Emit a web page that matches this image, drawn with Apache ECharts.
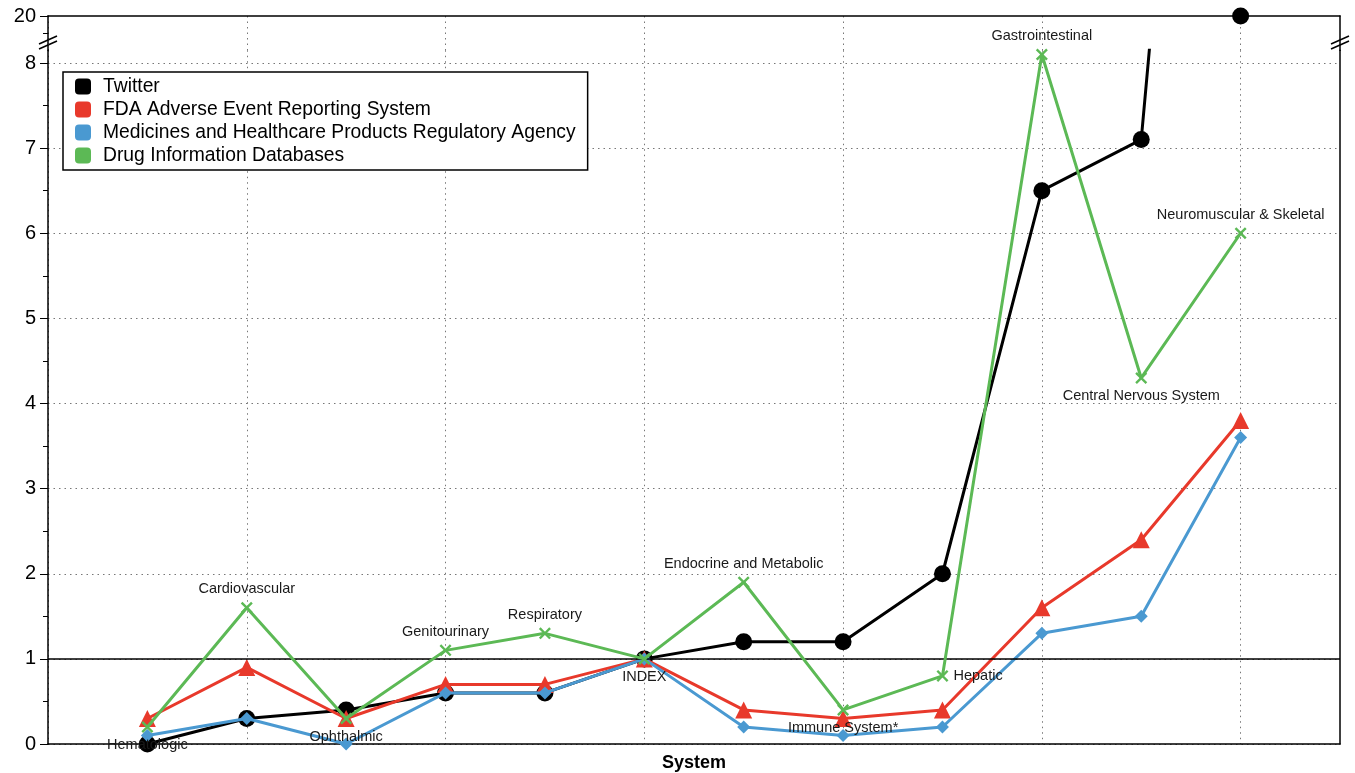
<!DOCTYPE html>
<html><head><meta charset="utf-8">
<script src="https://cdn.jsdelivr.net/npm/echarts@6/dist/echarts.min.js"></script>
<style>html,body{margin:0;padding:0;background:#fff}#c{width:1355px;height:773px}</style>
</head><body><div id="c"></div>
<script>
// ---- data ----
const categories = ['Hematologic','Cardiovascular','Ophthalmic','Genitourinary','Respiratory','INDEX','Endocrine and Metabolic','Immune System*','Hepatic','Gastrointestinal','Central Nervous System','Neuromuscular & Skeletal'];
const twitter = [0, 0.3, 0.4, 0.6, 0.6, 1.0, 1.2, 1.2, 2.0, 6.5, 7.1, 20];
const fda     = [0.3, 0.9, 0.3, 0.7, 0.7, 1.0, 0.4, 0.3, 0.4, 1.6, 2.4, 3.8];
const mhra    = [0.1, 0.3, 0.0, 0.6, 0.6, 1.0, 0.2, 0.1, 0.2, 1.3, 1.5, 3.6];
const drugDb  = [0.2, 1.6, 0.3, 1.1, 1.3, 1.0, 1.9, 0.4, 0.8, 8.1, 4.3, 6.0];
const seriesNames = ['Twitter','FDA Adverse Event Reporting System','Medicines and Healthcare Products Regulatory Agency','Drug Information Databases'];
const lowerTicks = [0,1,2,3,4,5,6,7,8];
const upperTicks = [20];
const indexValue = 1;
const breakValue = 8;

// ---- layout / style ----
const labelPlacement = ['bottom','top','bottom','top','top','bottom','top','bottom','right','top','bottom','top'];
const colors = ['#000000','#e8392b','#4a99d1','#5cb955'];
const FONT = '"Liberation Sans", Arial, Helvetica, sans-serif';
const pxPerUnit = (744 - 63) / 8;
const lowMax = 8.15;
const lowTop = 744 - lowMax * pxPerUnit;
const axisCats = ['', ...categories, ' '];
const pad = arr => [null, ...arr, null];
const crossPath = 'path://M0,1.4L1.4,0L5,3.6L8.6,0L10,1.4L6.4,5L10,8.6L8.6,10L5,6.4L1.4,10L0,8.6L3.6,5Z';

const chart = echarts.init(document.getElementById('c'), null, {renderer:'canvas'});

const catAxisBase = {
  type: 'category', data: axisCats, boundaryGap: false,
  axisTick: {show: false}, axisLabel: {show: false},
  axisLine: {show: true, onZero: false, lineStyle: {color: '#000', width: 1.5}},
  splitLine: {show: true, lineStyle: {color: '#777', type: [1.5, 4], width: 1}}
};

const labelStyle = {fontSize: 14.5, color: '#1a1a1a', fontFamily: FONT, distance: 5};

const option = {
  animation: false,
  backgroundColor: '#fff',
  textStyle: {fontFamily: FONT},
  grid: [
    {left: 48, right: 15, top: lowTop, bottom: 29, outerBoundsMode: 'none', containLabel: false},
    {left: 48, right: 15, top: 16, height: lowTop - 16, outerBoundsMode: 'none', containLabel: false}
  ],
  xAxis: [
    Object.assign({}, catAxisBase, {gridIndex: 0, position: 'bottom', name: 'System', nameLocation: 'middle', nameGap: 10,
      nameTextStyle: {fontSize: 18, fontWeight: 'bold', color: '#000', fontFamily: FONT}}),
    Object.assign({}, catAxisBase, {gridIndex: 1, position: 'top'})
  ],
  yAxis: [
    {gridIndex: 0, type: 'value', min: 0, max: lowMax, interval: 1, position: 'left',
      axisLine: {show: true, onZero: false, lineStyle: {color: '#000', width: 1.5}},
      axisTick: {show: true, length: 8, customValues: lowerTicks, lineStyle: {color: '#000', width: 1}},
      minorTick: {show: true, splitNumber: 2, length: 5, lineStyle: {color: '#000', width: 1}},
      axisLabel: {customValues: lowerTicks, fontSize: 20, color: '#000', margin: 12, fontFamily: FONT},
      splitLine: {show: true, lineStyle: {color: '#777', type: [1.5, 4], width: 1}}
    },
    {gridIndex: 0, type: 'value', min: 0, max: 1, position: 'right',
      axisLine: {show: true, onZero: false, lineStyle: {color: '#000', width: 1.5}},
      axisTick: {show: false}, axisLabel: {show: false}, splitLine: {show: false}
    },
    {gridIndex: 1, type: 'value', min: 12, max: 20, interval: 8, position: 'left',
      axisLine: {show: true, onZero: false, lineStyle: {color: '#000', width: 1.5}},
      axisTick: {show: true, length: 8, customValues: upperTicks, lineStyle: {color: '#000', width: 1}},
      minorTick: {show: true, splitNumber: 2, length: 5, lineStyle: {color: '#000', width: 1}},
      axisLabel: {customValues: upperTicks, fontSize: 20, color: '#000', margin: 12, fontFamily: FONT},
      splitLine: {show: false}
    },
    {gridIndex: 1, type: 'value', min: 0, max: 1, position: 'right',
      axisLine: {show: true, onZero: false, lineStyle: {color: '#000', width: 1.5}},
      axisTick: {show: false}, axisLabel: {show: false}, splitLine: {show: false}
    }
  ],
  legend: {
    data: seriesNames, orient: 'vertical', left: 63, top: 72,
    icon: 'roundRect', itemWidth: 16, itemHeight: 16, itemGap: 4,
    padding: [5, 12, 5, 12], borderColor: '#000', borderWidth: 1.5, backgroundColor: '#fff',
    textStyle: {fontSize: 19.3, color: '#000', fontFamily: FONT, padding: [0, 0, 0, 7]}
  },
  series: [
    {name: seriesNames[0], type: 'line', xAxisIndex: 0, yAxisIndex: 0, data: pad(twitter), clip: true,
      color: colors[0], symbol: 'circle', symbolSize: 17, lineStyle: {width: 3, color: colors[0]},
      itemStyle: {color: colors[0]}, z: 2,
      markLine: {silent: true, symbol: 'none', label: {show: false}, animation: false,
        lineStyle: {color: '#000', width: 1.5, type: 'solid'}, data: [{yAxis: indexValue}]}
    },
    {name: seriesNames[0], type: 'scatter', xAxisIndex: 1, yAxisIndex: 2, clip: false,
      data: pad(twitter.map(v => v > breakValue ? v : null)),
      color: colors[0], symbol: 'circle', symbolSize: 17, itemStyle: {color: colors[0], opacity: 1}, z: 3},
    {name: seriesNames[1], type: 'line', xAxisIndex: 0, yAxisIndex: 0, data: pad(fda),
      color: colors[1], symbol: 'triangle', symbolSize: 17, lineStyle: {width: 3, color: colors[1]},
      itemStyle: {color: colors[1]}, z: 3},
    {name: seriesNames[2], type: 'line', xAxisIndex: 0, yAxisIndex: 0, data: pad(mhra),
      color: colors[2], symbol: 'diamond', symbolSize: 13, lineStyle: {width: 3, color: colors[2]},
      itemStyle: {color: colors[2]}, z: 4},
    {name: seriesNames[3], type: 'line', xAxisIndex: 0, yAxisIndex: 0,
      data: pad(drugDb.map((v, i) => ({value: v,
        label: Object.assign({show: true, position: labelPlacement[i], formatter: categories[i]}, labelStyle)}))),
      color: colors[3], symbol: crossPath, symbolSize: 12, lineStyle: {width: 3, color: colors[3]},
      itemStyle: {color: colors[3]}, z: 5}
  ],
  graphic: [48, 1340].map(x => ({
    type: 'group', x: x, y: 42, z: 100, children: [
      {type: 'polygon', shape: {points: [[-9, 2], [9, -6], [9, -1], [-9, 7]]}, style: {fill: '#fff'}},
      {type: 'line', shape: {x1: -9, y1: 2, x2: 9, y2: -6}, style: {stroke: '#000', lineWidth: 1.5}},
      {type: 'line', shape: {x1: -9, y1: 7, x2: 9, y2: -1}, style: {stroke: '#000', lineWidth: 1.5}}
    ]
  }))
};
chart.setOption(option);
</script></body></html>
